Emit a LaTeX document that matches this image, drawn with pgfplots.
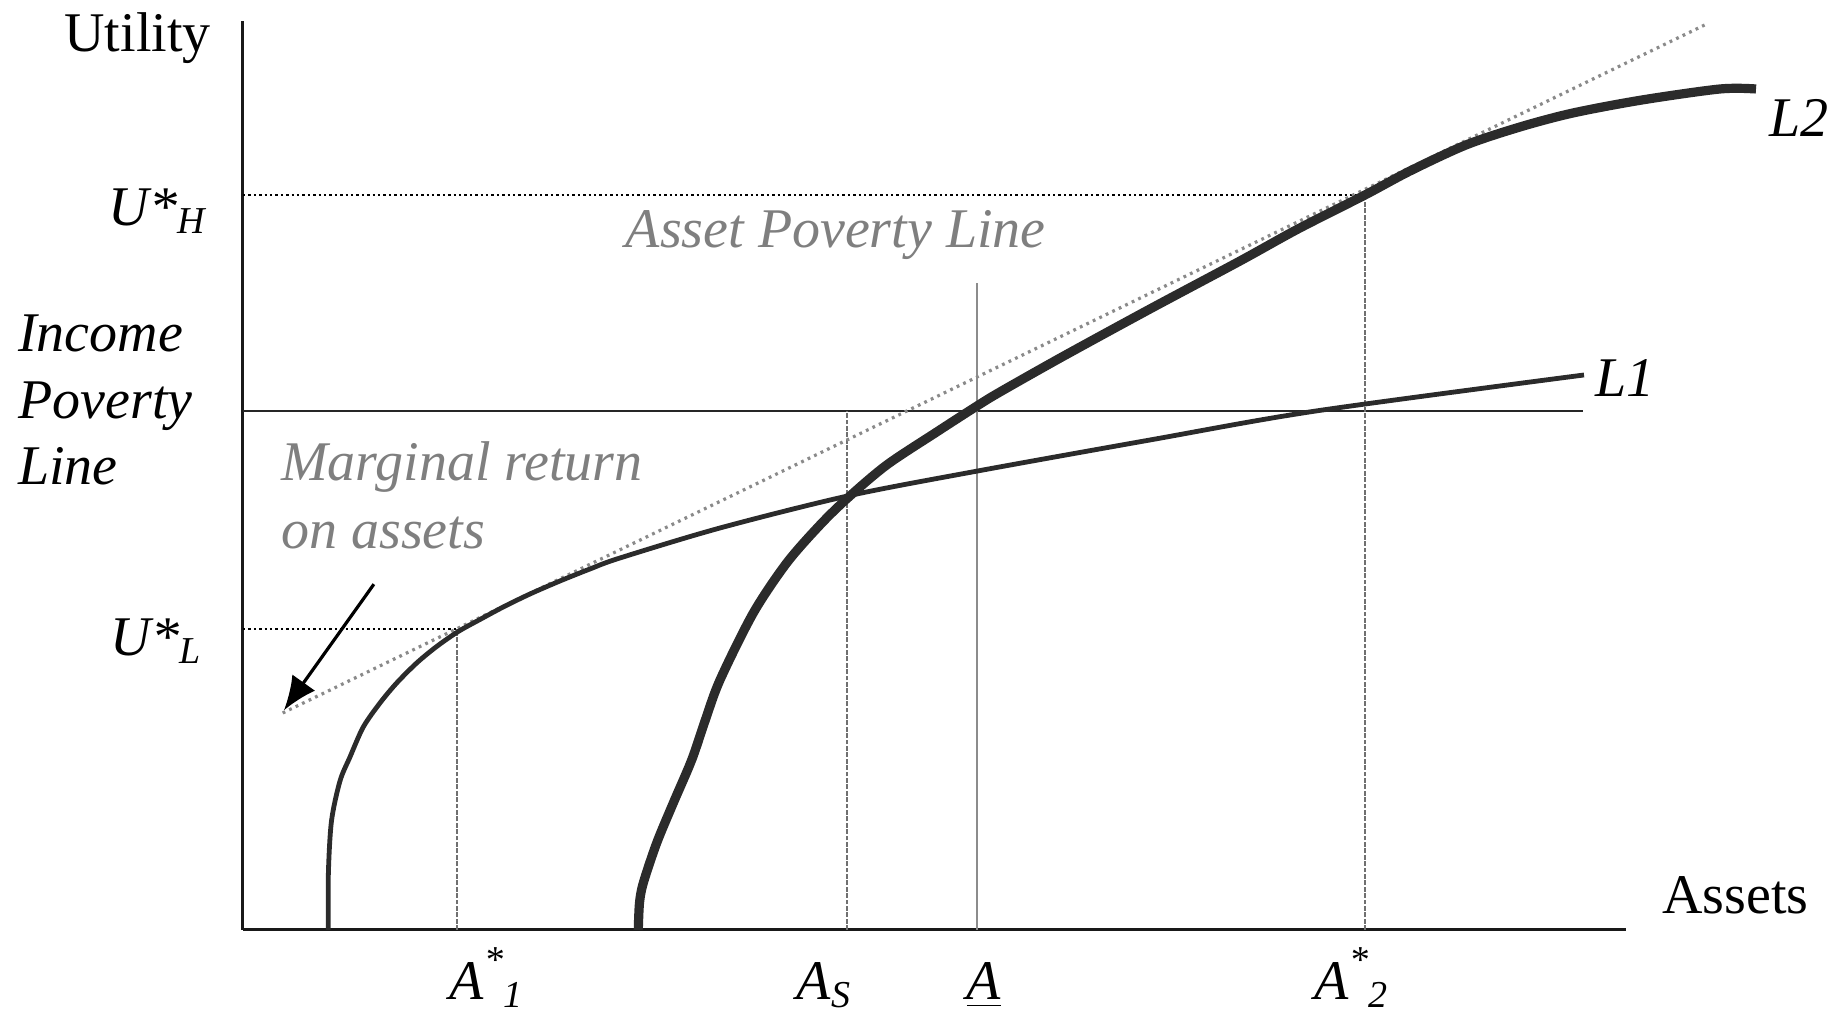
\documentclass[border=0pt]{standalone}
\usepackage{fontspec}
\setmainfont{Liberation Serif}
\usepackage{pgfplots}
\pgfplotsset{compat=1.18}
\usetikzlibrary{arrows.meta}
\definecolor{curve}{HTML}{2B2B2B}
\definecolor{txtgray}{HTML}{7F7F7F}
\definecolor{tang}{HTML}{8A8A8A}
\definecolor{vline}{HTML}{707070}
\newcommand\lbl{\fontsize{14}{16.6}\selectfont}
\newcommand\sbs{\fontsize{9.5}{10}\selectfont}
\begin{document}
\begin{tikzpicture}
\begin{axis}[
  scale only axis, width=345.75pt, height=227.25pt,
  xmin=243, xmax=1626, ymin=83, ymax=992,
  axis lines=left, axis line style={-, line width=0.75pt, color=black!90},
  xtick=\empty, ytick=\empty, clip=false,
]
\coordinate (bbll) at (axis cs:0,0);
\coordinate (bbur) at (axis cs:1832,1013);
% guide lines
\addplot[black, line width=0.7pt, dash pattern=on 0.6pt off 0.75pt] coordinates {(243,818) (1365,818)};
\addplot[black, line width=0.7pt, dash pattern=on 0.6pt off 0.75pt] coordinates {(243,384) (457,384)};
\addplot[black!85, line width=0.55pt] coordinates {(243,602) (1583,602)};
\addplot[vline, line width=0.3pt, dash pattern=on 1.2pt off 0.4pt] coordinates {(457,83) (457,384)};
\addplot[vline, line width=0.3pt, dash pattern=on 1.2pt off 0.4pt] coordinates {(847,83) (847,602)};
\addplot[black!45, line width=0.4pt] coordinates {(977,83) (977,730)};
\addplot[vline, line width=0.3pt, dash pattern=on 1.2pt off 0.4pt] coordinates {(1365,83) (1365,818)};
% tangent
\addplot[tang, line width=0.8pt, dash pattern=on 0.7pt off 1.1pt] coordinates {(282.7,300) (1708,989.6)};
% L1
\addplot[curve, line width=1.2pt, smooth] coordinates {
(328.3,83) (328.4,140) (331.5,192) (340,232) (350,256) (363.3,286) (380,310)
(396.7,330) (416.7,350) (436.7,366.5) (458.3,381.5) (480,393.5) (503.3,406)
(530,419) (560,432) (590,444) (620,455) (720,485) (847.7,517) (977.7,542)
(1150,573) (1316,602) (1584,638)};
% L2
\addplot[curve, line width=2.3pt, smooth] coordinates {
(638.3,83) (639.5,110) (643.3,130) (656.7,170) (673.3,210) (691.7,253) (705,292)
(720,333) (753.3,400) (786.7,450) (820,488) (847.7,515) (886.7,548) (936.7,581)
(977,607) (1000,621) (1062,656) (1150,704) (1240,752) (1298,784) (1365,818)
(1410,842) (1466,868) (1520,886) (1573,900) (1642,913) (1720,924) (1756,924)};
% arrow
\addplot[black, line width=0.8pt, -{Latex[length=8.5pt,width=7pt]}] coordinates {(373.9,428.8) (283.9,302.6)};
% labels
\node[anchor=base west, inner sep=0pt] at (axis cs:63.7,961) {\lbl Utility};
\node[anchor=base west, inner sep=0pt] at (axis cs:108,787.5) {\lbl\itshape U*\raisebox{-2pt}{\sbs H}};
\node[anchor=base west, inner sep=0pt] at (axis cs:110,357) {\lbl\itshape U*\raisebox{-2pt}{\sbs L}};
\node[anchor=base west, inner sep=0pt] at (axis cs:17.5,661.6) {\lbl\itshape Income};
\node[anchor=base west, inner sep=0pt] at (axis cs:17.5,594.9) {\lbl\itshape Poverty};
\node[anchor=base west, inner sep=0pt] at (axis cs:17.5,528.6) {\lbl\itshape Line};
\node[anchor=base west, inner sep=0pt, text=txtgray] at (axis cs:280.5,532) {\lbl\itshape Marginal return};
\node[anchor=base west, inner sep=0pt, text=txtgray] at (axis cs:280.5,464.6) {\lbl\itshape on assets};
\node[anchor=base west, inner sep=0pt, text=txtgray] at (axis cs:625,765) {\lbl\itshape Asset Poverty Line};
\node[anchor=base west, inner sep=0pt] at (axis cs:1595,616) {\lbl\itshape L1};
\node[anchor=base west, inner sep=0pt] at (axis cs:1768.8,876) {\lbl\itshape L2};
\node[anchor=base west, inner sep=0pt] at (axis cs:1661.5,99) {\lbl Assets};
\node[anchor=base west, inner sep=0pt] at (axis cs:449,13) {\lbl\itshape A\raisebox{6.8pt}{\sbs *}\raisebox{-2pt}{\sbs 1}};
\node[anchor=base west, inner sep=0pt] at (axis cs:796,13) {\lbl\itshape A\raisebox{-2pt}{\sbs S}};
\node[anchor=base west, inner sep=0pt] at (axis cs:966,13) {\lbl\itshape \underline{A}};
\node[anchor=base west, inner sep=0pt] at (axis cs:1314,13) {\lbl\itshape A\raisebox{6.8pt}{\sbs *}\raisebox{-2pt}{\sbs 2}};
\end{axis}
\pgfresetboundingbox
\useasboundingbox (bbll) rectangle (bbur);
\end{tikzpicture}
\end{document}
